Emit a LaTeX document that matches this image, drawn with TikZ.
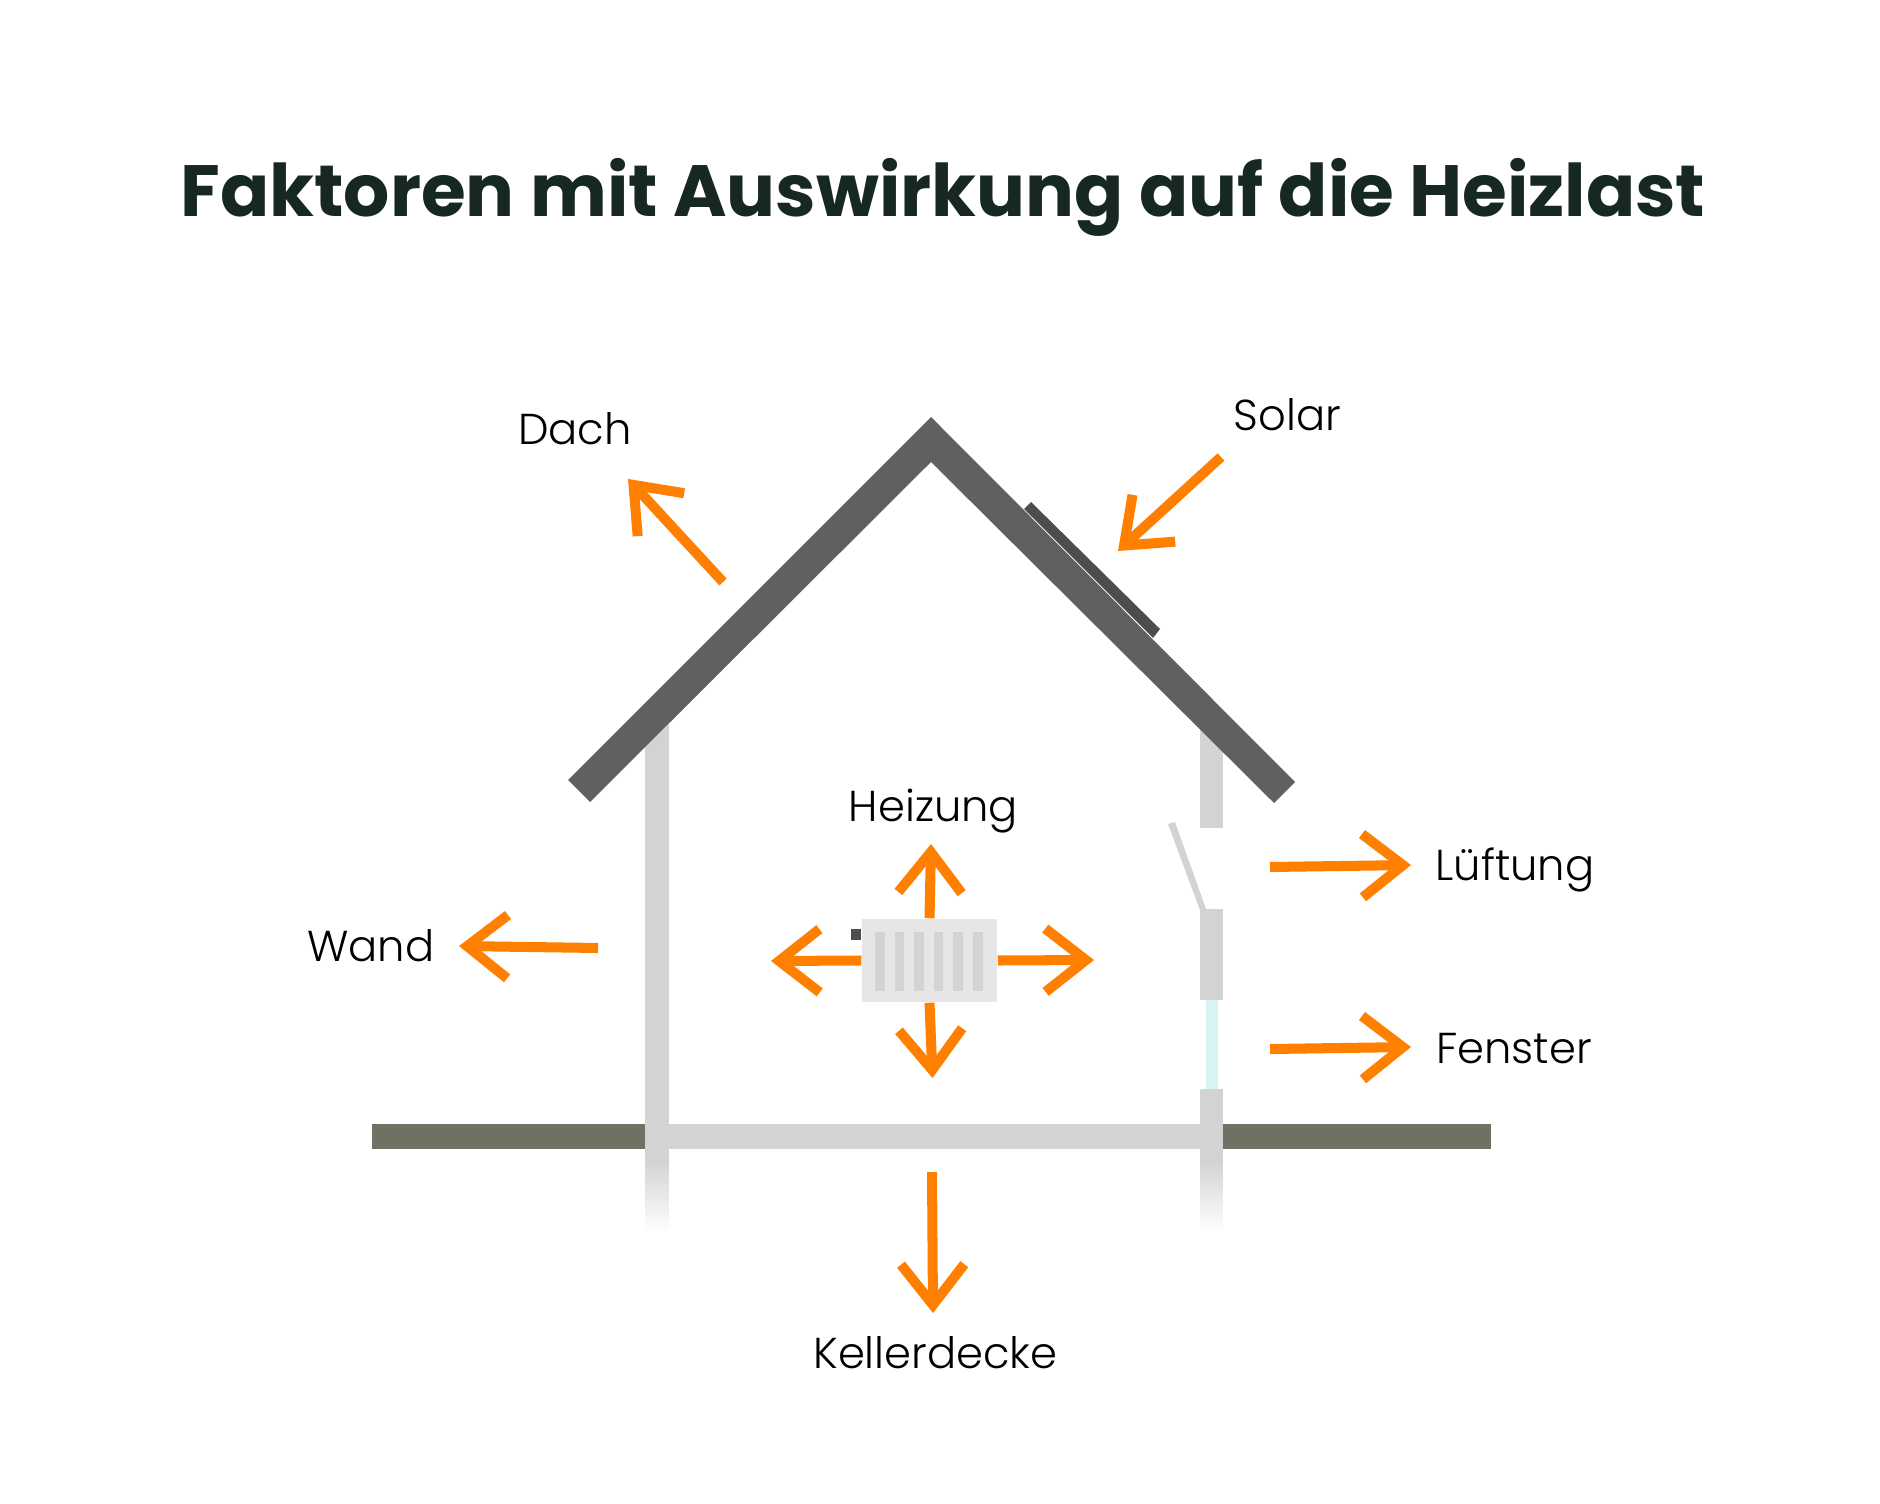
\documentclass[tikz,border=0pt]{standalone}
\usepackage{fontspec}
\setmainfont{Poppins Light}[BoldFont=Poppins Bold]
\usetikzlibrary{arrows.meta}

\definecolor{heizpfeil}{HTML}{FF7F00}
\definecolor{wandgrau}{HTML}{D3D3D3}
\definecolor{dachgrau}{HTML}{606060}
\definecolor{solargrau}{HTML}{4D4D4D}
\definecolor{erdgrau}{HTML}{6F7263}
\definecolor{glasfarbe}{HTML}{D6F4F1}
\definecolor{koerpergrau}{HTML}{E6E6E6}
\definecolor{titelfarbe}{HTML}{16281F}

\tikzset{
  waerme/.style={draw=heizpfeil, line width=2.85pt, -{Straight Barb[length=11.5pt,width=18pt]}},
  beschriftung/.style={black, inner sep=0pt, anchor=base, font=\fontsize{12.3pt}{14pt}\selectfont},
}

\begin{document}
\begin{tikzpicture}[x=0.01cm,y=-0.01cm]

      \useasboundingbox (0,0) rectangle (1880,1504);

      \node[titelfarbe,inner sep=0pt,anchor=base,font=\fontsize{20.64pt}{25pt}\selectfont\bfseries] (titel) at (943,217) {Faktoren mit Auswirkung auf die Heizlast};

      \fill[wandgrau] (645,720) rectangle (669,1160);
      \fill[wandgrau] (1199.5,720) rectangle (1223,828);
      \fill[wandgrau] (1199.5,909) rectangle (1223,1000);
      \fill[glasfarbe] (1206,1000) rectangle (1218,1089);
      \fill[wandgrau] (1199.5,1089) rectangle (1223,1160);
      \foreach \i in {0,...,36} {
        \pgfmathsetmacro{\anteil}{100-\i*100/36}
        \fill[wandgrau!\anteil!white] (645,1160+\i*2) rectangle (669,1233);
        \fill[wandgrau!\anteil!white] (1199.5,1160+\i*2) rectangle (1223,1233);
      }
      \fill[wandgrau] (1168,824) -- (1175,822) -- (1206,909) -- (1199.5,909) -- cycle;

      \fill[wandgrau] (669,1124) rectangle (1199.5,1149);
      \fill[erdgrau] (372,1124) rectangle (645,1149);
      \fill[erdgrau] (1223,1124) rectangle (1491,1149);

      \fill[dachgrau] (931,417) -- (1295,782) -- (1274,803) -- (931,462) -- (590,802) -- (568,780) -- cycle;
      \fill[solargrau] (1031,502) -- (1160,629) -- (1153,638) -- (1024,509) -- cycle;

      \node[fill=koerpergrau,minimum width=1.35cm,minimum height=0.83cm,inner sep=0pt] (radiator) at (929.5,960.5) {};
      \foreach \x in {875,894.5,914,933.5,953,973}
        \fill[wandgrau] (\x,932) rectangle (\x+9.5,991);
      \fill[solargrau] (851,929) rectangle (861,940);

      \coordinate (dachA) at (723,582);
      \coordinate (dachB) at (628,479);
      \coordinate (solarA) at (1221,457);
      \coordinate (solarB) at (1118,551);
      \coordinate (lueftungA) at (1270,867);
      \coordinate (lueftungB) at (1411,865);
      \coordinate (fensterA) at (1270,1049);
      \coordinate (fensterB) at (1411,1047);
      \coordinate (wandA) at (598,948);
      \coordinate (wandB) at (459,946);
      \coordinate (kellerA) at (932,1172);
      \coordinate (kellerB) at (933,1313);
      \coordinate (obenB) at (931,844);
      \coordinate (untenB) at (932.5,1078);
      \coordinate (linksB) at (771,961);
      \coordinate (rechtsB) at (1094,960);

      \draw[waerme] (dachA) -- (dachB);
      \draw[waerme] (solarA) -- (solarB);
      \draw[waerme] (lueftungA) -- (lueftungB);
      \draw[waerme] (fensterA) -- (fensterB);
      \draw[waerme] (wandA) -- (wandB);
      \draw[waerme] (kellerA) -- (kellerB);
      \draw[waerme] (radiator.north) -- (obenB);
      \draw[waerme] (radiator.south) -- (untenB);
      \draw[waerme] (radiator.west) -- (linksB);
      \draw[waerme] (radiator.east) -- (rechtsB);

      \node[beschriftung] (dach) at (575,445) {Dach};
      \node[beschriftung] (solar) at (1287.5,431) {Solar};
      \node[beschriftung] (heizung) at (933.5,821) {Heizung};
      \node[beschriftung] (lueftung) at (1515,880) {Lüftung};
      \node[beschriftung] (wand) at (371,961) {Wand};
      \node[beschriftung] (fenster) at (1514,1063) {Fenster};
      \node[beschriftung] (keller) at (935.5,1368) {Kellerdecke};

    \end{tikzpicture}
\end{document}
